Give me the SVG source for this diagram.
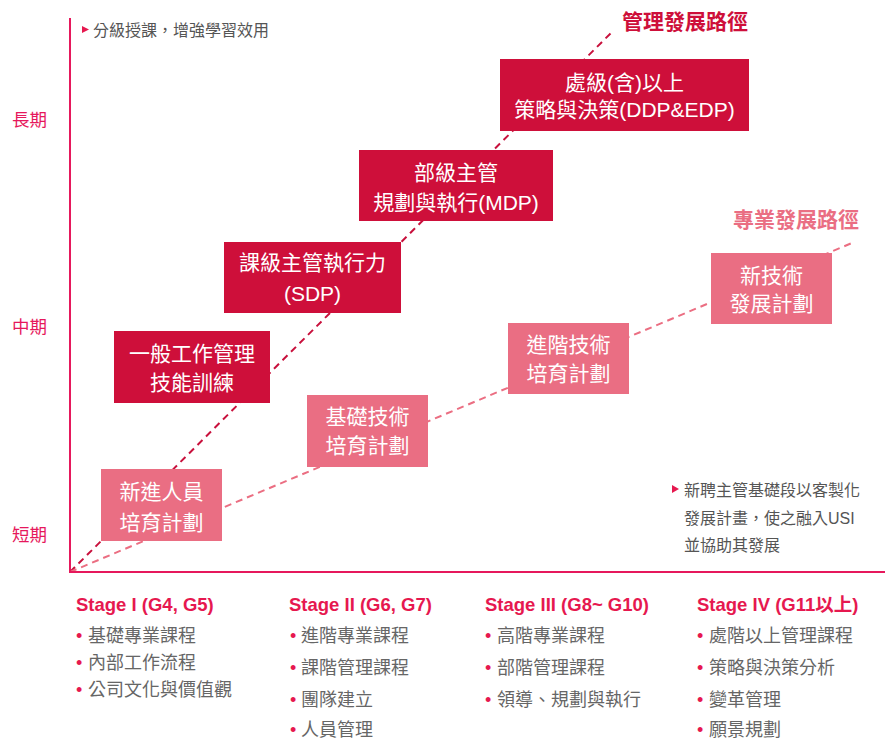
<svg xmlns="http://www.w3.org/2000/svg" width="885" height="740" viewBox="0 0 885 740">
<style>
text{font-family:"Liberation Sans","Noto Sans CJK TC",sans-serif}
.axis{stroke:#E6185C;stroke-width:2;fill:none}
.dark{fill:#CE0F3A}
.light{fill:#EA6E83}
.bt{fill:#fff;font-size:21px;text-anchor:middle}
.ax{fill:#E6185C;font-size:17.5px}
.note{fill:#555;font-size:16px}
.tri{fill:#E6184F}
.stage{fill:#E6184F;font-size:18.5px;font-weight:bold}
.item{fill:#666;font-size:18px}
.bul{fill:#E6184F;font-size:18px}
.dl{stroke:#C8103C;stroke-width:2;stroke-dasharray:7 5;fill:none}
.ll{stroke:#EB6E82;stroke-width:2;stroke-dasharray:7 5;fill:none}
</style>
<rect width="885" height="740" fill="#fff"/>
<g id="connectors">
<line class="dl" x1="70" y1="572" x2="614" y2="30"/>
<line class="ll" x1="70" y1="572" x2="852" y2="243"/>
</g>
<g id="axes">
<line class="axis" x1="70" y1="18" x2="70" y2="573"/>
<line class="axis" x1="69" y1="572" x2="885" y2="572"/>
<text class="ax" x="12" y="126">長期</text>
<text class="ax" x="12" y="333">中期</text>
<text class="ax" x="12" y="541">短期</text>
</g>
<g id="note-top">
<polygon class="tri" points="82,26 89,29.5 82,33"/>
<text class="note" x="93" y="35.5">分級授課，增強學習效用</text>
</g>
<g id="title-mgmt">
<text x="622" y="29" font-size="21" font-weight="bold" fill="#CE0F3A">管理發展路徑</text>
</g>
<g id="title-pro">
<text x="733" y="227" font-size="21" font-weight="bold" fill="#EA6E83">專業發展路徑</text>
</g>
<g id="node-ddp">
<rect class="dark" x="500" y="59" width="249" height="72"/>
<text class="bt" x="624.5" y="89.5">處級(含)以上</text>
<text class="bt" x="624.5" y="117">策略與決策(DDP&amp;EDP)</text>
</g>
<g id="node-mdp">
<rect class="dark" x="359" y="150" width="194" height="71"/>
<text class="bt" x="456" y="179.5">部級主管</text>
<text class="bt" x="456" y="210">規劃與執行(MDP)</text>
</g>
<g id="node-sdp">
<rect class="dark" x="224" y="242" width="177" height="71"/>
<text class="bt" x="312.5" y="269.5">課級主管執行力</text>
<text class="bt" x="312.5" y="300.5">(SDP)</text>
</g>
<g id="node-general">
<rect class="dark" x="114" y="331" width="156" height="72"/>
<text class="bt" x="192" y="360.5">一般工作管理</text>
<text class="bt" x="192" y="389.5">技能訓練</text>
</g>
<g id="node-new">
<rect class="light" x="101" y="469" width="121" height="72"/>
<text class="bt" x="161.5" y="498.5">新進人員</text>
<text class="bt" x="161.5" y="529.5">培育計劃</text>
</g>
<g id="node-basic">
<rect class="light" x="307" y="395" width="121" height="72"/>
<text class="bt" x="367.5" y="423.5">基礎技術</text>
<text class="bt" x="367.5" y="452.5">培育計劃</text>
</g>
<g id="node-adv">
<rect class="light" x="508" y="323" width="121" height="71"/>
<text class="bt" x="568.5" y="351.5">進階技術</text>
<text class="bt" x="568.5" y="380.5">培育計劃</text>
</g>
<g id="node-newtech">
<rect class="light" x="711" y="253" width="121" height="71"/>
<text class="bt" x="771.5" y="282.5">新技術</text>
<text class="bt" x="771.5" y="310.5">發展計劃</text>
</g>
<g id="note-right">
<polygon class="tri" points="672,485 679,489 672,493"/>
<text class="note" x="684" y="496">新聘主管基礎段以客製化</text>
<text class="note" x="684" y="523.5">發展計畫，使之融入USI</text>
<text class="note" x="684" y="551">並協助其發展</text>
</g>
<g id="stage1">
<text class="stage" x="76" y="611">Stage I (G4, G5)</text>
<text class="bul" x="76" y="642">•</text><text class="item" x="88" y="642">基礎專業課程</text>
<text class="bul" x="76" y="669">•</text><text class="item" x="88" y="669">內部工作流程</text>
<text class="bul" x="76" y="696">•</text><text class="item" x="88" y="696">公司文化與價值觀</text>
</g>
<g id="stage2">
<text class="stage" x="289" y="611">Stage II (G6, G7)</text>
<text class="bul" x="290" y="642">•</text><text class="item" x="301" y="642">進階專業課程</text>
<text class="bul" x="290" y="674">•</text><text class="item" x="301" y="674">課階管理課程</text>
<text class="bul" x="290" y="706">•</text><text class="item" x="301" y="706">團隊建立</text>
<text class="bul" x="290" y="736">•</text><text class="item" x="301" y="736">人員管理</text>
</g>
<g id="stage3">
<text class="stage" x="485" y="611">Stage III (G8~ G10)</text>
<text class="bul" x="485" y="642">•</text><text class="item" x="497" y="642">高階專業課程</text>
<text class="bul" x="485" y="674">•</text><text class="item" x="497" y="674">部階管理課程</text>
<text class="bul" x="485" y="706">•</text><text class="item" x="497" y="706">領導、規劃與執行</text>
</g>
<g id="stage4">
<text class="stage" x="697" y="611">Stage IV (G11以上)</text>
<text class="bul" x="697" y="642">•</text><text class="item" x="709" y="642">處階以上管理課程</text>
<text class="bul" x="697" y="674">•</text><text class="item" x="709" y="674">策略與決策分析</text>
<text class="bul" x="697" y="706">•</text><text class="item" x="709" y="706">變革管理</text>
<text class="bul" x="697" y="736">•</text><text class="item" x="709" y="736">願景規劃</text>
</g>
</svg>
